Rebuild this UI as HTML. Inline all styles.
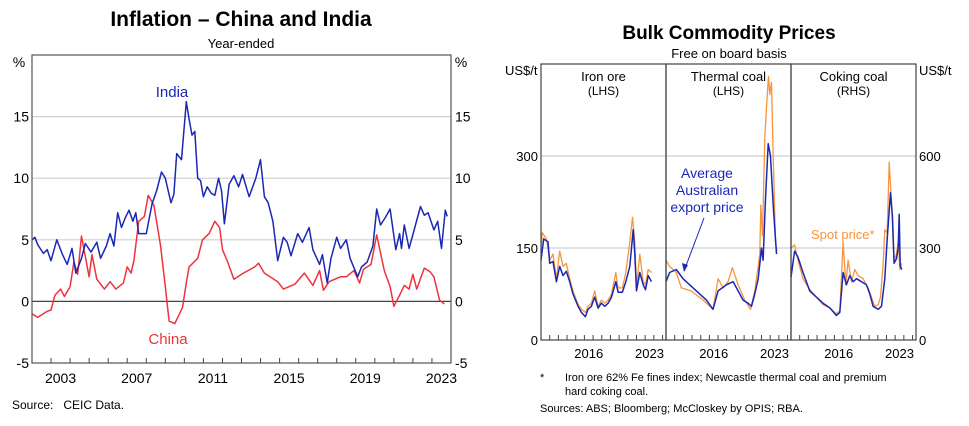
<!DOCTYPE html>
<html><head><meta charset="utf-8">
<style>
body{margin:0;background:#fff;}
svg{display:block;font-family:"Liberation Sans",Arial,sans-serif;}
</style></head><body>
<svg id="c" width="969" height="426" viewBox="0 0 969 426" xmlns="http://www.w3.org/2000/svg">
<text x="241" y="26" font-size="21" font-weight="bold" text-anchor="middle">Inflation – China and India</text>
<text x="241" y="48" font-size="13" text-anchor="middle">Year-ended</text>
<text x="19" y="67" font-size="14" text-anchor="middle">%</text>
<text x="461" y="67" font-size="14" text-anchor="middle">%</text>
<text x="12" y="409" font-size="12">Source:&#160;&#160;&#160;CEIC Data.</text>
<text x="729" y="39" font-size="19" font-weight="bold" text-anchor="middle">Bulk Commodity Prices</text>
<text x="729" y="58" font-size="13" text-anchor="middle">Free on board basis</text>
<text x="505" y="75" font-size="13">US$/t</text>
<text x="919" y="75" font-size="13">US$/t</text>
<text x="540" y="381" font-size="11">*</text>
<text x="565" y="381" font-size="11">Iron ore 62% Fe fines index; Newcastle thermal coal and premium</text>
<text x="565" y="395" font-size="11">hard coking coal.</text>
<text x="540" y="412" font-size="11">Sources: ABS; Bloomberg; McCloskey by OPIS; RBA.</text>
</svg>
<script>
// ---- Left chart data ----
const indiaDates=[2002.0,2002.15,2002.3,2002.6,2002.8,2003.0,2003.3,2003.6,2003.85,2004.1,2004.3,2004.6,2004.8,2005.1,2005.4,2005.6,2005.9,2006.1,2006.3,2006.5,2006.7,2006.9,2007.1,2007.3,2007.45,2007.6,2008.0,2008.3,2008.55,2008.8,2009.0,2009.3,2009.45,2009.6,2009.85,2010.1,2010.25,2010.4,2010.55,2010.7,2010.85,2011.0,2011.2,2011.4,2011.6,2011.8,2011.95,2012.1,2012.35,2012.6,2012.85,2013.05,2013.4,2013.75,2014.0,2014.2,2014.4,2014.65,2014.9,2015.2,2015.4,2015.6,2015.95,2016.2,2016.55,2016.75,2017.1,2017.25,2017.5,2017.7,2018.0,2018.2,2018.5,2018.7,2019.1,2019.3,2019.6,2019.9,2020.1,2020.3,2020.55,2020.8,2021.1,2021.3,2021.4,2021.55,2021.8,2022.1,2022.4,2022.6,2022.8,2023.1,2023.3,2023.5,2023.7,2023.8];
const indiaValues=[5.0,5.2,4.6,3.9,4.2,3.3,5.0,3.8,3.0,4.3,2.3,3.5,4.7,4.0,4.8,3.5,4.5,5.5,4.5,7.2,6.0,6.8,7.4,6.5,7.2,5.5,5.5,7.9,9.0,10.5,10.0,8.0,8.7,12.0,11.5,16.2,14.8,13.5,13.8,10.0,9.8,8.5,9.3,8.8,8.6,10.0,9.0,6.3,9.5,10.2,9.3,10.3,8.5,10.0,11.5,8.5,8.0,6.5,3.3,5.2,4.8,3.7,5.5,4.8,6.0,4.2,3.0,3.8,1.5,3.5,5.2,4.3,5.0,3.5,2.0,2.8,3.2,4.5,7.5,6.2,6.8,7.5,4.2,5.5,4.3,6.2,4.3,6.0,7.7,7.0,7.2,5.8,6.5,4.3,7.4,6.9];
const chinaDates=[2002.0,2002.3,2002.8,2003.0,2003.2,2003.5,2003.7,2004.0,2004.2,2004.4,2004.6,2005.0,2005.15,2005.4,2005.8,2006.1,2006.4,2006.8,2007.0,2007.2,2007.35,2007.6,2007.9,2008.1,2008.4,2008.75,2009.0,2009.2,2009.5,2009.9,2010.1,2010.25,2010.7,2010.95,2011.3,2011.6,2011.85,2012.0,2012.25,2012.6,2013.1,2013.7,2013.9,2014.2,2014.9,2015.2,2015.8,2016.3,2016.75,2017.1,2017.3,2017.6,2018.2,2018.5,2018.9,2019.2,2019.4,2019.8,2020.1,2020.5,2020.8,2021.0,2021.3,2021.55,2021.8,2022.0,2022.2,2022.6,2022.9,2023.1,2023.4,2023.65];
const chinaValues=[-1.0,-1.3,-0.8,-0.7,0.5,1.0,0.4,1.2,3.2,2.2,5.3,2.0,3.8,1.8,1.0,1.6,1.0,1.5,2.8,2.3,3.3,6.5,6.9,8.6,7.8,4.5,1.2,-1.6,-1.8,-0.5,1.5,2.8,3.5,5.0,5.5,6.5,6.0,4.2,3.3,1.8,2.3,2.8,3.1,2.3,1.6,1.0,1.4,2.3,1.3,2.5,0.9,1.6,2.0,2.0,2.5,1.5,2.6,3.0,5.4,2.5,1.2,-0.4,0.5,1.3,1.0,2.2,1.0,2.7,2.4,2.0,0.1,-0.2];
const leftYTicks=[-5,0,5,10,15];
const leftXLabels=[2003,2007,2011,2015,2019,2023];
// ---- Right chart data ----
const ironBlueDates=[2011.0,2011.31,2011.81,2012.0,2012.38,2012.77,2013.15,2013.54,2013.92,2014.31,2014.69,2015.27,2015.65,2016.12,2016.42,2016.81,2017.19,2017.58,2017.96,2018.35,2018.73,2019.12,2019.62,2019.88,2020.38,2020.77,2021.23,2021.62,2021.81,2022.0,2022.38,2022.77,2023.04,2023.35,2023.73];
const ironBlueValues=[130,165,160,125,128,95,120,105,112,95,75,55,45,38,50,55,70,52,60,55,60,70,95,78,78,95,120,180,140,80,110,90,82,105,95];
const ironSpotDates=[2011.0,2011.15,2011.62,2012.0,2012.38,2012.77,2013.15,2013.54,2013.92,2014.31,2014.69,2015.27,2015.65,2016.12,2016.42,2016.81,2017.19,2017.58,2017.96,2018.35,2018.73,2019.12,2019.62,2019.88,2020.38,2020.77,2021.23,2021.54,2021.81,2022.0,2022.38,2022.77,2023.04,2023.35,2023.73];
const ironSpotValues=[150,175,165,130,140,100,145,120,125,100,80,58,50,45,55,60,80,55,65,60,65,75,110,85,85,110,160,200,160,85,140,95,90,115,110];
const thermBlueDates=[2011.0,2011.42,2012.19,2012.96,2014.12,2015.65,2016.42,2017.0,2017.96,2018.73,2019.31,2019.88,2020.46,2020.85,2021.23,2021.62,2022.0,2022.19,2022.46,2022.77,2023.04,2023.35,2023.73];
const thermBlueValues=[95,110,115,100,85,65,50,80,90,95,80,65,60,55,75,100,150,130,230,320,300,220,140];
const thermSpotDates=[2011.0,2011.42,2012.19,2012.77,2013.92,2015.27,2016.42,2017.0,2017.58,2018.15,2018.65,2019.31,2020.08,2020.73,2021.23,2021.81,2021.92,2022.12,2022.38,2022.58,2022.81,2022.96,2023.15,2023.35,2023.62,2023.77];
const thermSpotValues=[130,120,110,85,80,65,50,100,85,95,118,90,65,50,80,140,220,170,330,380,430,400,420,300,160,145];
const cokeBlueDates=[2011.0,2011.42,2011.81,2012.38,2013.15,2013.92,2014.69,2015.46,2016.23,2016.62,2017.0,2017.38,2017.77,2018.15,2018.54,2019.12,2019.69,2020.08,2020.46,2021.04,2021.42,2021.81,2022.08,2022.46,2022.69,2022.88,2023.15,2023.35,2023.46,2023.58,2023.77];
const cokeBlueValues=[205,290,270,220,160,140,120,105,80,90,220,180,210,190,200,190,180,150,110,100,110,200,330,480,400,250,265,300,410,240,230];
const cokeSpotDates=[2011.0,2011.42,2011.81,2012.38,2013.15,2013.92,2014.69,2015.46,2016.23,2016.62,2017.0,2017.31,2017.58,2017.96,2018.35,2018.73,2019.31,2019.88,2020.27,2020.65,2021.04,2021.31,2021.62,2021.81,2022.08,2022.31,2022.58,2022.85,2023.15,2023.35,2023.54,2023.77];
const cokeSpotValues=[300,310,260,200,165,140,115,105,85,95,320,180,260,190,230,210,200,170,140,110,115,140,250,360,350,580,450,260,280,320,230,250];
const lhsTicks=[0,150,300];
const rhsTicks=[0,300,600];
const panelXLabels=[2016,2023];

const NS='http://www.w3.org/2000/svg';
const svg=document.getElementById('c');
function mk(tag,attrs,parent){const e=document.createElementNS(NS,tag);for(const k in attrs)e.setAttribute(k,attrs[k]);(parent||svg).appendChild(e);return e;}

// ---- Left chart ----
const L={x0:32,x1:451,y0:55,y1:363,dMin:2002,dMax:2024,vMin:-5,vMax:20};
const lx=d=>L.x0+(d-L.dMin)/(L.dMax-L.dMin)*(L.x1-L.x0);
const ly=v=>L.y1-(v-L.vMin)/(L.vMax-L.vMin)*(L.y1-L.y0);
leftYTicks.forEach(t=>{
  if(t!==-5){const g=mk('line',{x1:L.x0,x2:L.x1,y1:ly(t),y2:ly(t),stroke:t===0?'#444':'#cfcfcf','stroke-width':1.2});
  
  }
  const a=mk('text',{x:L.x0-3,y:ly(t)+5,'font-size':14,'text-anchor':'end'});a.textContent=t;
  
  
  const b=mk('text',{x:L.x1+4,y:ly(t)+5,'font-size':14});b.textContent=t;
  
  
});
for(let yr=L.dMin+1;yr<L.dMax;yr++){const tk=mk('line',{x1:lx(yr),x2:lx(yr),y1:L.y1,y2:L.y1-5,stroke:'#444'});
  
  }
leftXLabels.forEach(yr=>{const t=mk('text',{x:lx(yr+0.5),y:383,'font-size':14,'text-anchor':'middle'});t.textContent=yr;
  
  });
function line(dates,vals,fx,fy,color,name,w){const p=mk('path',{d:dates.map((d,i)=>(i?'L':'M')+fx(d).toFixed(1)+','+fy(vals[i]).toFixed(1)).join(''),fill:'none',stroke:color,'stroke-width':w||1.5,'stroke-linejoin':'round'});
  
  return p;}
line(chinaDates,chinaValues,lx,ly,'#f0323c','china-line');
line(indiaDates,indiaValues,lx,ly,'#1a28b4','india-line');
const lf=mk('rect',{x:L.x0,y:L.y0,width:L.x1-L.x0,height:L.y1-L.y0,fill:'none',stroke:'#555','stroke-width':1.2});


const il=mk('text',{x:172,y:97,'font-size':15,fill:'#1a28b4','text-anchor':'middle'});il.textContent='India';


const cl=mk('text',{x:168,y:344,'font-size':15,fill:'#f0323c','text-anchor':'middle'});cl.textContent='China';



// ---- Right chart ----
const R={x0:541,pw:125,y0:64,y1:340,dMin:2011,dMax:2025.4,lMax:450,rMax:900};
const ry=v=>R.y1-v/R.lMax*(R.y1-R.y0);
const rry=v=>R.y1-v/R.rMax*(R.y1-R.y0);
const px=k=>d=>R.x0+k*R.pw+(d-R.dMin)/(R.dMax-R.dMin)*R.pw;
lhsTicks.forEach(t=>{
  if(t>0){const g=mk('line',{x1:R.x0,x2:R.x0+3*R.pw,y1:ry(t),y2:ry(t),stroke:'#cfcfcf','stroke-width':1.2});
  
  }
  const a=mk('text',{x:R.x0-3,y:ry(t)+5,'font-size':13,'text-anchor':'end'});a.textContent=t;
  
  
});
rhsTicks.forEach(t=>{const b=mk('text',{x:R.x0+3*R.pw+3,y:rry(t)+5,'font-size':13});b.textContent=t;
  
  });
const panels=['Iron ore','Thermal coal','Coking coal'];
const sides=['(LHS)','(LHS)','(RHS)'];
for(let k=0;k<3;k++){
  const fx=px(k);
  for(let yr=2012;yr<=2025;yr++){const tk=mk('line',{x1:fx(yr),x2:fx(yr),y1:R.y1,y2:R.y1-5,stroke:'#444'});
    
    }
  panelXLabels.forEach(yr=>{const t=mk('text',{x:fx(yr+0.5),y:358,'font-size':13,'text-anchor':'middle'});t.textContent=yr;
    
    });
  const cx=R.x0+k*R.pw+R.pw/2;
  const t1=mk('text',{x:cx,y:81,'font-size':13,'text-anchor':'middle'});t1.textContent=panels[k];
  
  
  const t2=mk('text',{x:cx,y:95,'font-size':12,'text-anchor':'middle'});t2.textContent=sides[k];
  
  
}
line(ironSpotDates,ironSpotValues,px(0),ry,'#f7943c','iron-ore-spot-line',1.3);
line(ironBlueDates,ironBlueValues,px(0),ry,'#1a28b4','iron-ore-export-line',1.5);
line(thermSpotDates,thermSpotValues,px(1),ry,'#f7943c','thermal-coal-spot-line',1.3);
line(thermBlueDates,thermBlueValues,px(1),ry,'#1a28b4','thermal-coal-export-line',1.5);
line(cokeSpotDates,cokeSpotValues,px(2),rry,'#f7943c','coking-coal-spot-line',1.3);
line(cokeBlueDates,cokeBlueValues,px(2),rry,'#1a28b4','coking-coal-export-line',1.5);
for(let k=0;k<3;k++){const f=mk('rect',{x:R.x0+k*R.pw,y:R.y0,width:R.pw,height:R.y1-R.y0,fill:'none',stroke:'#444','stroke-width':1.2});
  
  }
const ann=['Average','Australian','export price'];
ann.forEach((s,i)=>{const t=mk('text',{x:707,y:178+i*17,'font-size':14,fill:'#1a28b4','text-anchor':'middle'});t.textContent=s;
  
  });
const ar=mk('line',{x1:704,y1:218,x2:684,y2:271,stroke:'#1a28b4','stroke-width':1});


const ah=mk('path',{d:'M684,272 L682,263 L688,265 Z',fill:'#1a28b4'});


const sp=mk('text',{x:811,y:239,'font-size':13,fill:'#f7943c'});sp.textContent='Spot price*';


</script>
</body></html>
